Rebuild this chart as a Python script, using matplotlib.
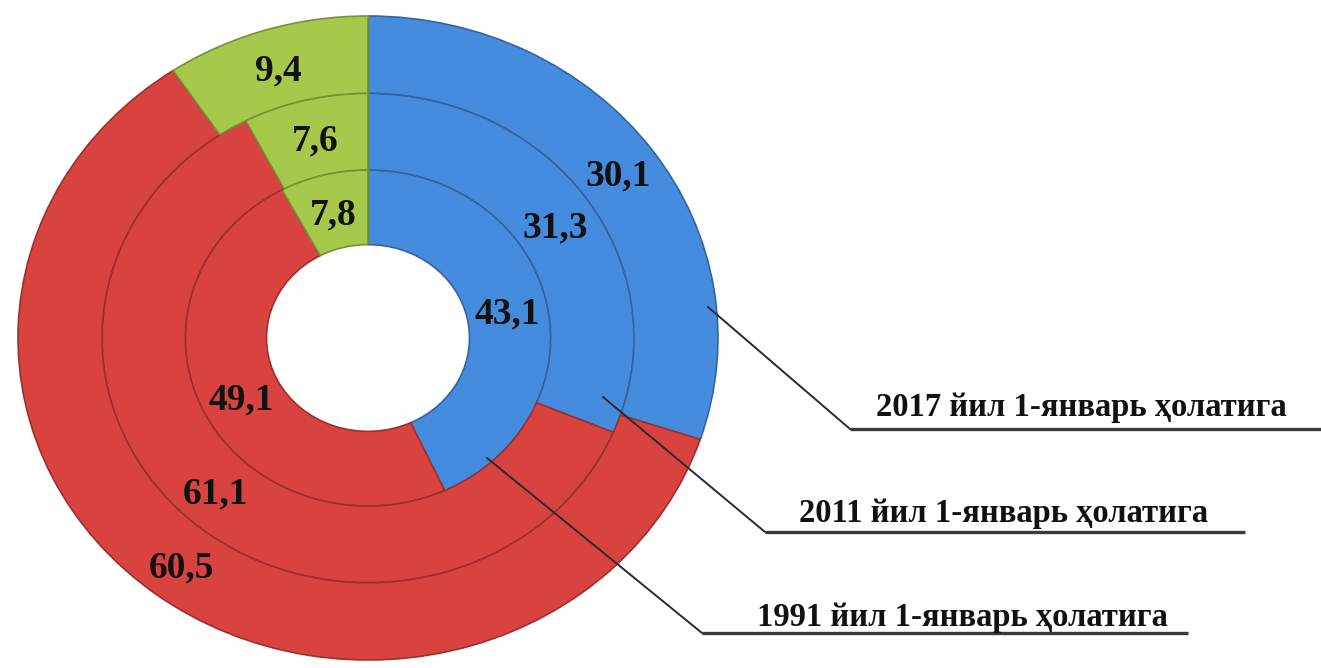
#!/usr/bin/env python3
"""Nested donut: structure shares (blue / red / green) on 1 January 1991, 2011, 2017."""

import matplotlib
matplotlib.use("Agg")
import matplotlib.colors as mcolors
import matplotlib.pyplot as plt
import numpy as np
from matplotlib.lines import Line2D

W_PX, H_PX = 1321, 668

# ---------------------------------------------------------------------------
# Data (inner ring -> outer ring)
# ---------------------------------------------------------------------------
ring_labels = [
    "1991 йил 1-январь ҳолатига",
    "2011 йил 1-январь ҳолатига",
    "2017 йил 1-январь ҳолатига",
]
blue_share = [43.1, 31.3, 30.1]
red_share = [49.1, 61.1, 60.5]
green_share = [7.8, 7.6, 9.4]

COLORS = ["#468cde", "#d8433f", "#a6c94c"]

# ring geometry (outer radius = 1)
RING_OUTER = [0.522, 0.76, 1.0]
RING_WIDTH = [0.232, 0.238, 0.24]

# pie centre in pixels and x / y radius in pixels (image is a touch stretched)
CX, CY = 368, 338
RX, RY = 350, 322

# leader lines: start inside blue wedge -> elbow -> end of underline (pixels)
LEADERS = [
    [(487, 458), (702, 633), (1188, 633)],
    [(603, 397), (765, 532), (1245, 532)],
    [(708, 307), (850, 429), (1321, 429)],
]
# label centre x / baseline y (pixels)
LABEL_POS = [(962, 626), (1004, 522), (1081, 416)]


def fmt(v):
    return f"{v:.1f}".replace(".", ",")


def px(x, y):
    return x / W_PX, 1 - y / H_PX


def darker(c, f=0.72):
    r, g, b = mcolors.to_rgb(c)
    return (r * f, g * f, b * f)


def main():
    fig = plt.figure(figsize=(W_PX / 100, H_PX / 100), dpi=100)
    ax = fig.add_axes([0, 0, 1, 1])

    for i in range(len(ring_labels)):
        vals = [blue_share[i], red_share[i], green_share[i]]
        wedges, _ = ax.pie(
            vals, radius=RING_OUTER[i], startangle=90, counterclock=False,
            colors=COLORS,
            wedgeprops=dict(width=RING_WIDTH[i], linewidth=1.2),
        )
        for w, v, c in zip(wedges, vals, COLORS):
            w.set_edgecolor(darker(c))
            theta = np.deg2rad((w.theta1 + w.theta2) / 2)
            r = w.r - RING_WIDTH[i] / 2
            ax.text(r * np.cos(theta), r * np.sin(theta), fmt(v),
                    ha="center", va="center_baseline",
                    fontsize=27, fontweight="bold", family="Liberation Serif",
                    color="#111111")

    ax.set_aspect("auto")
    ax.set_xlim(-CX / RX, (W_PX - CX) / RX)
    ax.set_ylim(-(H_PX - CY) / RY, CY / RY)
    ax.axis("off")

    for pts, lab, (tx, ty) in zip(LEADERS, ring_labels, LABEL_POS):
        (x0, y0), (x1, y1), (x2, y2) = [px(*p) for p in pts]
        fig.add_artist(Line2D([x0, x1], [y0, y1], transform=fig.transFigure,
                              color="#2a2a2a", lw=1.4))
        fig.add_artist(Line2D([x1, x2], [y1, y2], transform=fig.transFigure,
                              color="#3a3a3a", lw=2.4, solid_capstyle="butt"))
        fx, fy = px(tx, ty)
        fig.text(fx, fy, lab, ha="center", va="baseline",
                 fontsize=23.5, fontweight="bold", family="Liberation Serif",
                 color="#111111")

    fig.savefig("out.png", dpi=100)
    plt.close(fig)


if __name__ == "__main__":
    main()
